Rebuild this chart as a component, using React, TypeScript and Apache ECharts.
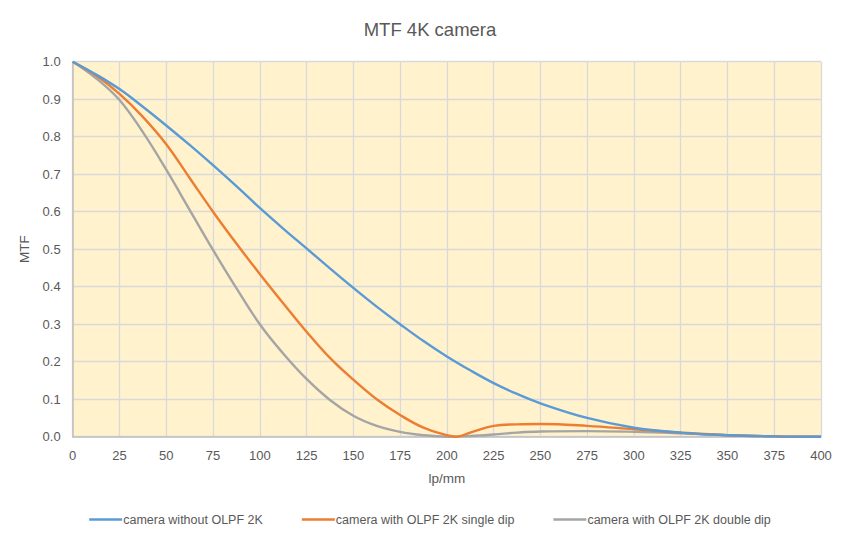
import React, { useEffect, useRef } from "react";
import * as echarts from "echarts";

const TITLE = "MTF 4K camera";
const X_NAME = "lp/mm";
const Y_NAME = "MTF";
const SERIES_NAMES = [
  "camera without OLPF 2K",
  "camera with OLPF 2K single dip",
  "camera with OLPF 2K double dip",
];
const COLORS = ["#5B9BD5", "#ED7D31", "#A5A5A5"];

const blueX = [0, 12.5, 25, 37.5, 50, 62.5, 75, 87.5, 100, 112.5, 125, 137.5, 150, 162.5, 175, 187.5, 200, 212.5, 225, 237.5, 250, 275, 300, 325, 350, 375, 400];
const blueY = [1.0, 0.966, 0.927, 0.88, 0.83, 0.778, 0.724, 0.668, 0.61, 0.555, 0.502, 0.449, 0.397, 0.347, 0.3, 0.255, 0.214, 0.177, 0.143, 0.114, 0.089, 0.05, 0.024, 0.011, 0.004, 0.001, 0.0];

const orangeX = [0, 12.5, 25, 37.5, 50, 62.5, 75, 87.5, 100, 112.5, 125, 137.5, 150, 162.5, 175, 187.5, 200, 205, 212.5, 225, 237.5, 250, 275, 300, 325, 350, 375, 400];
const orangeY = [1.0, 0.963, 0.914, 0.853, 0.78, 0.69, 0.6, 0.515, 0.434, 0.356, 0.28, 0.21, 0.152, 0.1, 0.058, 0.024, 0.004, 0.0, 0.011, 0.029, 0.033, 0.034, 0.029, 0.02, 0.011, 0.004, 0.001, 0.0];

const grayX = [0, 12.5, 25, 37.5, 50, 62.5, 75, 87.5, 100, 112.5, 125, 137.5, 150, 162.5, 175, 187.5, 200, 212.5, 225, 237.5, 250, 275, 300, 325, 350, 375, 400];
const grayY = [1.0, 0.956, 0.898, 0.812, 0.712, 0.605, 0.498, 0.396, 0.3, 0.222, 0.154, 0.098, 0.056, 0.029, 0.013, 0.004, 0.0, 0.002, 0.006, 0.011, 0.014, 0.015, 0.013, 0.009, 0.004, 0.001, 0.0];

const FONT = "'Liberation Sans', Arial, sans-serif";
const TEXT = "#595959";

function pairs(xs: number[], ys: number[]) {
  return xs.map((x, i) => [x, ys[i]]);
}

export default function App() {
  const ref = useRef<HTMLDivElement>(null);
  useEffect(() => {
    if (!ref.current) return;
    const chart = echarts.init(ref.current, null, { renderer: "svg" });
    const datasets = [pairs(blueX, blueY), pairs(orangeX, orangeY), pairs(grayX, grayY)];
    chart.setOption({
      animation: false,
      backgroundColor: "#ffffff",
      textStyle: { fontFamily: FONT },
      title: {
        text: TITLE,
        left: "center",
        top: 15,
        textStyle: { fontFamily: FONT, fontSize: 18.5, fontWeight: "normal", color: TEXT },
      },
      legend: {
        bottom: 21,
        left: "center",
        icon: "rect",
        itemWidth: 33,
        itemHeight: 2.5,
        itemGap: 39,
        textStyle: { fontFamily: FONT, fontSize: 12.5, color: TEXT, padding: [0, 0, 0, -4] },
        data: SERIES_NAMES,
      },
      grid: {
        left: 72.7,
        right: 39,
        top: 61.7,
        bottom: 115.3,
        show: true,
        backgroundColor: "#FFF2CC",
        borderWidth: 0,
      },
      xAxis: {
        type: "value",
        min: 0,
        max: 400,
        interval: 25,
        name: X_NAME,
        nameLocation: "middle",
        nameGap: 35,
        nameTextStyle: { fontFamily: FONT, fontSize: 13.5, color: TEXT },
        axisLine: { show: true, lineStyle: { color: "#BFBFBF", width: 1.5 } },
        axisTick: { show: false },
        axisLabel: { fontFamily: FONT, fontSize: 13, color: TEXT, margin: 12 },
        splitLine: { show: true, lineStyle: { color: "#D9D9D9", width: 1.3 } },
      },
      yAxis: {
        type: "value",
        min: 0,
        max: 1,
        interval: 0.1,
        name: Y_NAME,
        nameLocation: "middle",
        nameRotate: 90,
        nameGap: 33,
        nameTextStyle: { fontFamily: FONT, fontSize: 13.5, color: TEXT },
        axisLine: { show: true, lineStyle: { color: "#BFBFBF", width: 1.5 } },
        axisTick: { show: false },
        axisLabel: {
          fontFamily: FONT,
          fontSize: 13,
          color: TEXT,
          margin: 12,
          formatter: (v: number) => v.toFixed(1),
        },
        splitLine: { show: true, lineStyle: { color: "#D9D9D9", width: 1.3 } },
      },
      series: SERIES_NAMES.map((name, i) => ({
        name,
        type: "line",
        data: datasets[i],
        smooth: 0.4,
        showSymbol: false,
        symbol: "none",
        clip: true,
        z: 3 - i,
        lineStyle: { color: COLORS[i], width: 2.4 },
        itemStyle: { color: COLORS[i] },
      })),
    });
    return () => chart.dispose();
  }, []);
  return (
    <div
      ref={ref}
      style={{ position: "fixed", left: 0, top: 0, width: 860, height: 552 }}
    />
  );
}
